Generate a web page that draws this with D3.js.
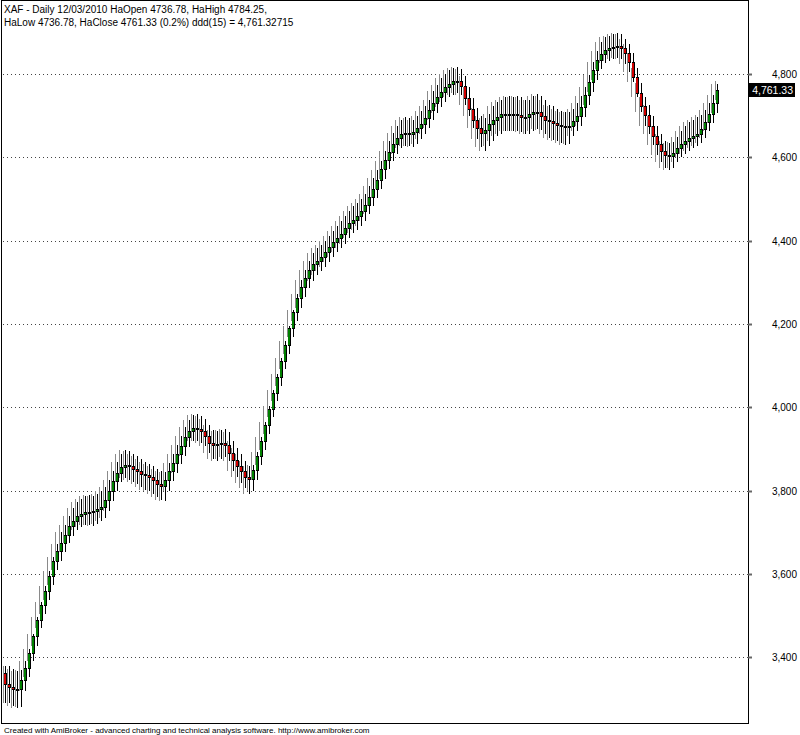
<!DOCTYPE html>
<html>
<head>
<meta charset="utf-8">
<script src="https://cdn.jsdelivr.net/npm/d3@7"></script>
<style>
  html, body { margin: 0; padding: 0; background: #fff; }
  svg { display: block; }
  text { font-family: "Liberation Sans", Arial, sans-serif; }
</style>
</head>
<body>
<svg id="chart" width="800" height="735"></svg>
<script>
// ---- data ----
const headerLines = [
  "XAF - Daily 12/03/2010 HaOpen 4736.78, HaHigh 4784.25,",
  "HaLow 4736.78, HaClose 4761.33 (0.2%) ddd(15) = 4,761.32715"
];
const footerText = "Created with AmiBroker - advanced charting and technical analysis software. http://www.amibroker.com";
const lastValue = 4761.33;
const yTicks = [3400, 3600, 3800, 4000, 4200, 4400, 4600, 4800];
const firstOpen = 3362;

const haClose = [3335,3328,3325,3324,3345,3375,3410,3450,3490,3525,
3560,3595,3630,3655,3675,3694,3714,3728,3738,3745,
3749,3749,3751,3755,3760,3778,3798,3822,3842,3856,
3862,3858,3853,3847,3841,3837,3832,3825,3817,3812,
3826,3846,3866,3888,3908,3929,3943,3950,3949,3944,
3930,3915,3910,3911,3914,3910,3890,3874,3860,3846,
3832,3828,3850,3884,3918,3958,3996,4034,4073,4112,
4150,4190,4228,4262,4288,4310,4329,4343,4352,4361,
4373,4384,4396,4407,4417,4430,4442,4450,4459,4470,
4486,4505,4525,4546,4571,4594,4613,4632,4647,4655,
4658,4655,4661,4671,4681,4694,4714,4730,4745,4757,
4769,4776,4782,4784,4770,4742,4715,4690,4670,4658,
4665,4680,4690,4697,4703,4704,4704,4705,4702,4697,
4697,4704,4709,4708,4700,4690,4686,4682,4678,4675,
4672,4676,4686,4700,4720,4750,4780,4810,4834,4848,
4858,4862,4866,4867,4863,4850,4828,4792,4755,4722,
4702,4676,4652,4632,4615,4606,4602,4610,4622,4631,
4640,4646,4651,4656,4668,4684,4704,4730,4761.33];

const barHigh = [3380,3372,3366,3370,3390,3420,3455,3496,3532,3572,
3606,3640,3672,3700,3718,3740,3758,3772,3780,3788,
3790,3788,3792,3798,3808,3826,3846,3868,3888,3898,
3895,3888,3882,3875,3868,3864,3858,3852,3846,3845,
3866,3888,3910,3932,3952,3970,3982,3985,3980,3972,
3958,3945,3942,3945,3948,3940,3918,3902,3888,3872,
3860,3862,3892,3928,3964,4004,4042,4080,4118,4158,
4196,4234,4272,4306,4330,4352,4370,4382,4390,4400,
4412,4424,4436,4446,4458,4470,4482,4490,4500,4512,
4530,4550,4570,4592,4616,4640,4658,4676,4690,4696,
4694,4690,4700,4712,4724,4738,4758,4774,4790,4800,
4810,4815,4818,4812,4796,4768,4742,4718,4700,4694,
4704,4722,4732,4738,4744,4746,4745,4748,4744,4738,
4738,4746,4752,4748,4738,4726,4722,4716,4712,4708,
4708,4716,4730,4746,4768,4798,4828,4856,4876,4888,
4892,4895,4898,4896,4884,4872,4850,4815,4778,4744,
4726,4700,4676,4656,4640,4634,4636,4648,4664,4676,
4684,4690,4696,4702,4714,4730,4750,4776,4784.25];

const barLow = [3290,3282,3278,3280,3318,3352,3390,3428,3470,3505,
3538,3574,3610,3632,3652,3674,3692,3706,3712,3718,
3718,3716,3720,3726,3734,3752,3774,3798,3820,3830,
3826,3820,3815,3808,3802,3798,3792,3784,3778,3776,
3800,3822,3842,3864,3884,3904,3918,3920,3915,3906,
3890,3876,3872,3876,3880,3870,3848,3832,3818,3806,
3792,3798,3826,3862,3898,3936,3976,4014,4052,4092,
4128,4168,4206,4238,4264,4286,4304,4318,4326,4336,
4348,4360,4372,4382,4392,4406,4418,4426,4434,4446,
4464,4482,4502,4524,4548,4572,4590,4608,4622,4628,
4628,4624,4632,4644,4656,4670,4690,4706,4720,4732,
4744,4750,4754,4750,4726,4698,4670,4644,4624,4614,
4626,4640,4650,4656,4662,4662,4664,4664,4660,4656,
4656,4664,4668,4666,4656,4646,4642,4638,4634,4630,
4632,4650,4662,4676,4696,4726,4756,4786,4812,4826,
4832,4836,4838,4836,4824,4806,4780,4744,4708,4676,
4656,4630,4606,4588,4574,4570,4574,4588,4600,4608,
4616,4622,4628,4634,4646,4662,4682,4706,4736.78];

// ---- layout ----
const svg = d3.select("#chart");
const W = 800, H = 735;
const plot = { left: 1, right: 748, top: 0, bottom: 723 };

const y = d3.scaleLinear().domain([3400, 4800]).range([657.33, 74]);
const x = d3.scaleLinear().domain([0, haClose.length - 1]).range([5, 717]);

svg.append("rect").attr("width", W).attr("height", H).attr("fill", "#fff");

// grid (dotted)
svg.append("g").selectAll("line").data(yTicks).join("line")
  .attr("x1", plot.left + 2).attr("x2", plot.right)
  .attr("y1", d => Math.round(y(d)) + 0.5).attr("y2", d => Math.round(y(d)) + 0.5)
  .attr("stroke", "#444").attr("stroke-width", 1)
  .attr("stroke-dasharray", "1,3");

// bars
const bars = haClose.map((c, i) => ({
  i, c,
  o: i === 0 ? firstOpen : haClose[i - 1],
  h: barHigh[i], l: barLow[i],
  ph: i === 0 ? barHigh[0] : barHigh[i - 1],
  pl: i === 0 ? barLow[0] : barLow[i - 1]
}));
const g = svg.append("g").attr("shape-rendering", "crispEdges");
bars.forEach(b => {
  const cx = Math.round(x(b.i));
  // gray price range line
  g.append("rect")
    .attr("x", cx - 2).attr("width", 1)
    .attr("y", y(b.h)).attr("height", y(b.l) - y(b.h))
    .attr("fill", "#8a8a8a");
  // black wick
  const top = Math.max(b.ph, b.o, b.c), bot = Math.min(b.pl, b.o, b.c);
  g.append("rect")
    .attr("x", cx).attr("width", 1)
    .attr("y", y(top)).attr("height", y(bot) - y(top))
    .attr("fill", "#000");
  // body: black outline, coloured fill
  const yt = Math.round(y(Math.max(b.o, b.c))), yb = Math.round(y(Math.min(b.o, b.c)));
  const hgt = Math.max(1, yb - yt);
  g.append("rect")
    .attr("x", cx - 1).attr("width", 3)
    .attr("y", yt).attr("height", hgt + 1)
    .attr("fill", "#000");
  if (hgt > 1) {
    g.append("rect")
      .attr("x", cx - 1).attr("width", 2)
      .attr("y", yt + 1).attr("height", hgt - 1)
      .attr("fill", b.c >= b.o ? "#008000" : "#d00000");
  }
});

// frame
svg.append("rect")
  .attr("x", plot.left + 0.5).attr("y", plot.top + 0.5)
  .attr("width", plot.right - plot.left).attr("height", plot.bottom - plot.top)
  .attr("fill", "none").attr("stroke", "#000").attr("stroke-width", 1);

// right axis ticks + labels
const fmt = d3.format(",");
const ax = svg.append("g");
ax.selectAll("line").data(yTicks).join("line")
  .attr("x1", plot.right).attr("x2", plot.right + 4)
  .attr("y1", d => Math.round(y(d)) + 0.5).attr("y2", d => Math.round(y(d)) + 0.5)
  .attr("stroke", "#666").attr("stroke-width", 2);
ax.selectAll("text").data(yTicks).join("text")
  .attr("x", 797).attr("y", d => y(d) + 4)
  .attr("text-anchor", "end").attr("font-size", 10).attr("fill", "#000")
  .text(d => fmt(d));

// last value box
const ly = y(lastValue);
svg.append("rect")
  .attr("x", 749).attr("y", Math.round(ly) - 7)
  .attr("width", 46).attr("height", 14).attr("fill", "#000");
svg.append("text")
  .attr("x", 793).attr("y", ly + 4)
  .attr("text-anchor", "end").attr("font-size", 10.5).attr("fill", "#fff")
  .text(d3.format(",.2f")(lastValue));

// header
svg.append("g").selectAll("text").data(headerLines).join("text")
  .attr("x", 4).attr("y", (d, i) => 13 + i * 13)
  .attr("font-size", 10).attr("fill", "#000")
  .text(d => d);

// footer
svg.append("text")
  .attr("x", 4).attr("y", 733)
  .attr("font-size", 8).attr("fill", "#000")
  .text(footerText);
</script>
</body>
</html>
